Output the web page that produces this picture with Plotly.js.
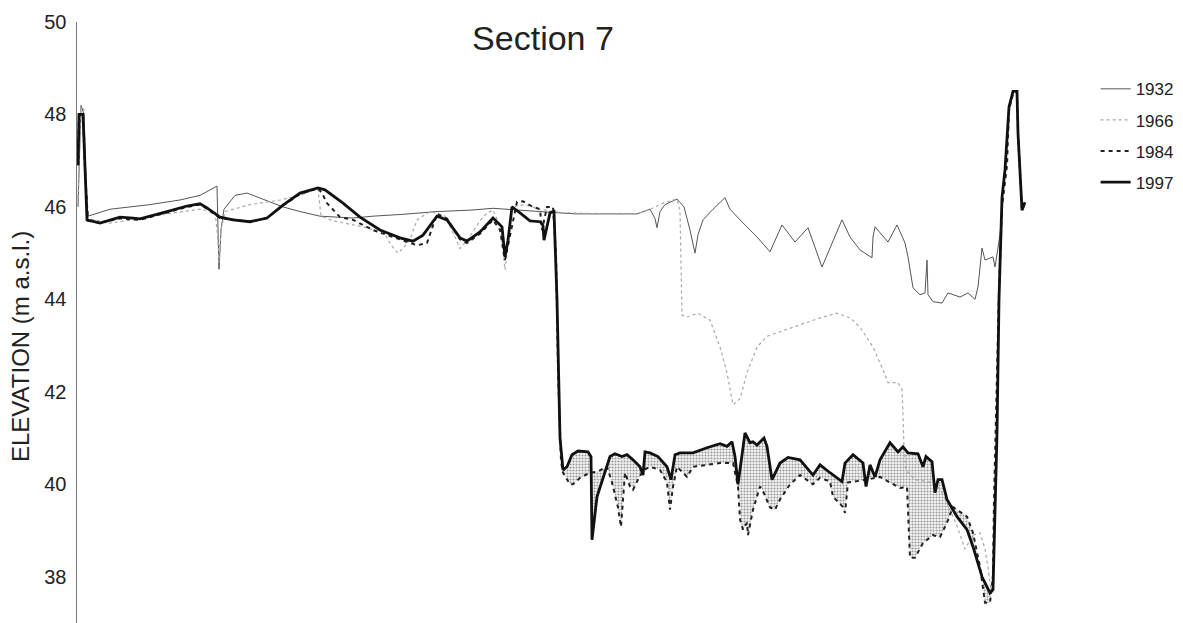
<!DOCTYPE html>
<html>
<head>
<meta charset="utf-8">
<script src="https://cdn.plot.ly/plotly-3.0.1.min.js"></script>
<style>
  html, body { margin: 0; padding: 0; background: #ffffff; }
  #chart { width: 1183px; height: 623px; }
</style>
</head>
<body>
<div id="chart"></div>
<script>
// Distance along the cross-section (arbitrary units, no x axis shown) and elevation (m a.s.l.)
const years = ['1932', '1966', '1984', '1997'];

const dist1932 = [1,3,4,7,9,11,33,73,103,123,140,141,142,144,147,158,170,188,206,223,243,276,296,326,360,393,416,463,498,546,560,573,578,580,583,588,600,607,613,618,621,626,636,648,653,663,680,693,705,718,731,745,765,773,783,795,796,798,811,820,828,831,836,843,848,850,851,856,865,871,883,891,898,901,905,908,916,918,921,923,926];
const elev1932 = [46.0,47.5,48.2,48.0,46.5,45.8,45.95,46.05,46.15,46.25,46.45,45.5,44.65,45.5,45.95,46.25,46.3,46.15,46.0,45.9,45.8,45.76,45.8,45.84,45.9,45.93,45.97,45.9,45.85,45.85,45.85,45.95,45.75,45.55,45.9,46.05,46.17,46.0,45.5,45.0,45.4,45.72,45.95,46.2,45.95,45.72,45.35,45.03,45.61,45.24,45.55,44.7,45.72,45.35,45.07,44.9,45.35,45.57,45.24,45.61,45.22,44.92,44.25,44.1,44.14,44.85,44.1,43.95,43.92,44.14,44.05,44.14,44.0,44.27,45.11,44.85,44.92,44.7,45.18,45.4,46.2];

const dist1966 = [1,3,4,7,9,11,33,56,90,123,138,141,142,144,148,173,203,223,241,243,244,256,273,290,308,315,321,328,333,340,353,368,378,383,391,403,410,416,423,426,428,431,435,448,463,483,523,560,573,588,600,603,604,605,610,621,633,643,650,656,663,670,680,690,703,723,743,760,773,783,796,806,811,821,825,826,827,829,838,853,863,870,880,888,896,903,908,911,914,917,920,922,925,928];
const elev1966 = [46.2,47.8,48.2,48.1,46.5,45.75,45.65,45.72,45.85,45.95,45.9,45.3,44.8,45.5,45.9,46.05,46.15,46.25,46.4,46.0,45.8,45.7,45.62,45.55,45.4,45.15,45.0,45.15,45.3,45.72,45.9,45.8,45.35,45.1,45.3,45.7,45.87,45.93,45.6,45.0,44.64,45.2,46.0,46.05,45.95,45.88,45.85,45.85,45.95,46.1,46.17,45.9,44.8,43.66,43.62,43.7,43.55,42.97,42.41,41.72,41.85,42.41,42.97,43.2,43.3,43.45,43.6,43.7,43.6,43.4,42.97,42.48,42.2,42.2,42.05,41.5,40.8,40.3,40.1,40.05,39.9,39.6,39.1,38.6,38.9,38.95,38.6,38.2,37.7,38.5,41.0,44.0,46.2,46.8];

const dist1984 = [1,2,6,8,11,23,43,63,90,110,123,130,143,173,190,206,223,241,245,250,263,276,296,323,340,350,360,370,383,390,403,416,423,428,433,440,446,456,463,465,470,476,479,481,484,486,493,496,503,513,520,530,535,541,544,546,548,553,556,561,566,573,583,590,593,596,600,610,616,630,643,656,661,663,666,670,671,676,683,686,693,698,703,713,723,736,743,753,756,766,768,771,790,803,813,823,830,833,838,846,856,863,870,876,890,896,903,908,913,916,917,919,922,925,930,932,936,940,941,945,948];
const elev1984 = [46.9,48.0,48.0,46.8,45.7,45.66,45.75,45.72,45.88,46.0,46.05,45.96,45.76,45.68,45.76,46.03,46.28,46.4,46.3,46.08,45.78,45.72,45.5,45.3,45.17,45.22,45.85,45.75,45.3,45.22,45.42,45.72,45.5,44.85,45.4,46.11,46.12,46.0,45.95,45.5,46.0,46.0,45.0,42.5,40.5,40.25,40.0,40.0,40.14,40.25,40.27,40.38,40.04,39.5,39.08,39.6,40.25,39.95,39.88,40.1,40.3,40.38,40.31,40.04,39.45,39.95,40.38,40.16,40.38,40.42,40.46,40.46,39.95,39.24,39.02,39.17,38.9,39.45,39.95,39.85,39.5,39.45,39.67,40.0,40.2,40.0,40.14,40.06,39.73,39.51,39.38,40.04,40.1,40.16,40.04,39.92,39.94,38.41,38.41,38.73,38.9,38.86,39.17,39.51,39.3,38.95,38.22,37.44,37.44,38.0,39.67,41.8,44.2,46.0,46.9,48.1,48.45,48.45,47.6,45.93,46.1];

const dist1997 = [1,2,6,8,10,23,43,56,63,90,110,123,130,143,156,173,190,206,223,241,248,266,283,303,323,336,346,360,370,383,390,403,416,425,428,431,435,443,453,463,466,467,473,477,480,483,486,490,495,501,511,514,515,520,526,533,538,545,550,556,563,566,568,573,581,590,594,598,603,616,630,643,650,655,658,661,668,673,676,680,687,690,695,703,711,723,736,743,753,765,768,776,786,789,793,798,803,813,821,826,831,841,846,849,855,858,861,865,870,880,890,896,905,913,916,920,922,925,928,932,936,940,941,945,948];
const elev1997 = [46.9,48.0,48.0,46.8,45.72,45.65,45.78,45.76,45.74,45.9,46.02,46.07,45.98,45.78,45.72,45.68,45.76,46.04,46.3,46.41,46.37,46.08,45.78,45.5,45.33,45.26,45.39,45.8,45.72,45.33,45.26,45.46,45.76,45.57,44.92,45.28,46.0,45.87,45.7,45.68,45.6,45.28,45.87,45.9,44.0,41.0,40.31,40.38,40.64,40.72,40.7,40.6,38.8,39.73,40.14,40.6,40.66,40.6,40.64,40.53,40.38,40.2,40.7,40.68,40.6,40.38,40.1,40.64,40.68,40.68,40.79,40.88,40.82,40.92,40.6,40.0,41.11,40.9,40.92,40.85,41.0,40.82,40.1,40.46,40.58,40.53,40.2,40.42,40.25,40.06,40.46,40.64,40.46,39.95,40.42,40.16,40.53,40.9,40.7,40.81,40.68,40.66,40.38,40.6,40.49,39.82,40.1,40.1,39.67,39.3,39.02,38.65,38.0,37.65,37.72,41.1,44.0,46.2,46.8,48.16,48.5,48.5,47.6,45.93,46.1];

const yTicks = [38, 40, 42, 44, 46, 48, 50];
const chartTitle = 'Section 7';
const yTitle = 'ELEVATION (m a.s.l.)';

// Stippled area between 1984 and 1997 on the lowered channel bed
const fillLo = 484, fillHi = 916;
function slice(d, e) {
  const x = [], y = [];
  d.forEach((v, i) => { if (v >= fillLo && v <= fillHi) { x.push(v); y.push(e[i]); } });
  return { x, y };
}
const s84 = slice(dist1984, elev1984);
const s97 = slice(dist1997, elev1997);

const font = 'Liberation Sans, Arial, sans-serif';

const traces = [
  { x: s84.x, y: s84.y, mode: 'lines', line: { width: 0, color: 'rgba(0,0,0,0)' },
    showlegend: false, hoverinfo: 'skip', legendgroup: 'fill' },
  { x: s97.x, y: s97.y, mode: 'lines', line: { width: 0, color: 'rgba(0,0,0,0)' },
    fill: 'tonexty', fillcolor: 'rgba(0,0,0,0)',
    fillpattern: { shape: '.', size: 3, solidity: 0.4, fgcolor: '#999999', bgcolor: '#f6f6f6' },
    showlegend: false, hoverinfo: 'skip', legendgroup: 'fill' },
  { x: dist1932, y: elev1932, name: years[0], legendgroup: 'a', mode: 'lines',
    line: { color: '#555555', width: 1 } },
  { x: dist1966, y: elev1966, name: years[1], legendgroup: 'b', mode: 'lines',
    line: { color: '#a8a8a8', width: 1.2, dash: '3px,3px' } },
  { x: dist1984, y: elev1984, name: years[2], legendgroup: 'c', mode: 'lines',
    line: { color: '#222222', width: 2, dash: '4px,4px' } },
  { x: dist1997, y: elev1997, name: years[3], legendgroup: 'd', mode: 'lines',
    line: { color: '#111111', width: 2.8 } }
];

const layout = {
  width: 1183, height: 623,
  margin: { l: 77, r: 0, t: 22, b: 0 },
  paper_bgcolor: '#ffffff', plot_bgcolor: '#ffffff',
  showlegend: true,
  title: { text: chartTitle, font: { family: font, size: 34, color: '#222' },
           xref: 'container', x: 543 / 1183, xanchor: 'center',
           yref: 'container', y: 1 - 38 / 623, yanchor: 'middle' },
  xaxis: { range: [0, 1106], visible: false, fixedrange: true },
  yaxis: { range: [37, 50], tickvals: yTicks, ticktext: yTicks.map(String),
           showline: true, linecolor: '#777', linewidth: 1.5, showgrid: false,
           zeroline: false, ticks: '', ticklabelstandoff: 5,
           tickfont: { family: font, size: 20, color: '#222' } },
  annotations: [
    { text: yTitle, xref: 'paper', yref: 'paper', x: (20 - 77) / 1106, y: (623 - 347) / 601,
      xanchor: 'center', yanchor: 'middle', textangle: -90, showarrow: false,
      font: { family: font, size: 24, color: '#222' } }
  ],
  legend: { x: 0.921, xanchor: 'left', y: 0.918, yanchor: 'top',
            font: { family: font, size: 17, color: '#222' },
            bgcolor: 'rgba(0,0,0,0)', tracegroupgap: 6, traceorder: 'grouped' }
};

Plotly.newPlot('chart', traces, layout, { displayModeBar: false, staticPlot: true });
</script>
</body>
</html>
